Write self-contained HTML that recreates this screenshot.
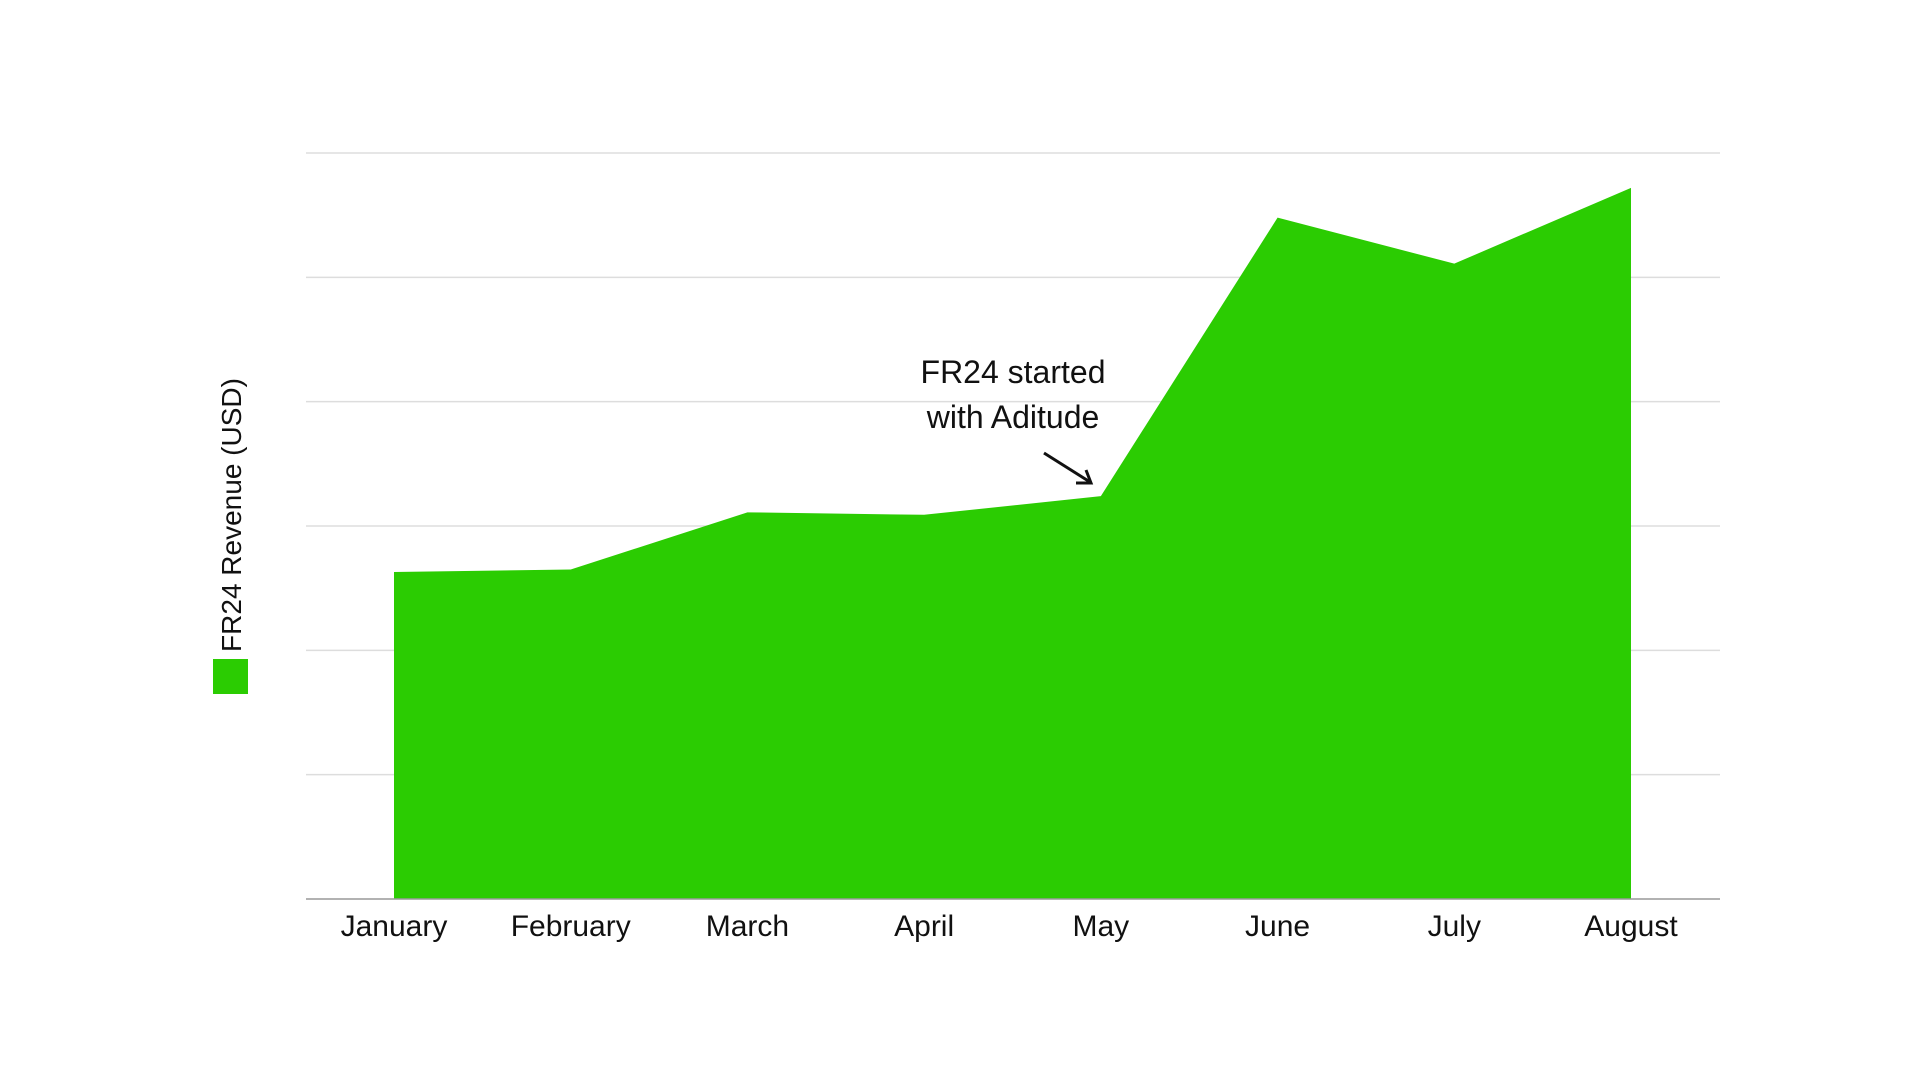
<!DOCTYPE html>
<html><head><meta charset="utf-8"><style>
html,body{margin:0;padding:0;background:#fff;}
svg{display:block;font-family:"Liberation Sans",sans-serif;}
</style></head><body>
<svg id="chart" width="1920" height="1080" viewBox="0 0 1920 1080">
<g id="grid"></g>
<path id="area" fill="#2bcc02"/>
<line x1="306" x2="1720" y1="899" y2="899" stroke="#999" stroke-width="1.5"/>
<g id="xlabels"></g>
<text x="1013" y="383" text-anchor="middle" font-size="32" fill="#111">FR24 started</text>
<text x="1013" y="428" text-anchor="middle" font-size="32" fill="#111">with Aditude</text>
<g stroke="#111" stroke-width="3" fill="none">
<line x1="1044" y1="453" x2="1090" y2="482"/>
<polyline points="1076,483 1091,483 1086,470"/>
</g>
<rect x="213" y="659" width="35" height="35" fill="#2bcc02"/>
<text transform="translate(241,515) rotate(-90)" text-anchor="middle" font-size="28" fill="#111">FR24 Revenue (USD)</text>
</svg>
<script>
const months=["January","February","March","April","May","June","July","August"];
const revenue=[2.63,2.65,3.11,3.09,3.24,5.48,5.11,5.72];
const gridTicks=[1,2,3,4,5,6];
const X0=306,X1=1720,Y0=899,Y6=153,YMAX=6;
const xs=i=>394+i*(1631-394)/(months.length-1);
const ys=v=>Y0-(v/YMAX)*(Y0-Y6);
const ns="http://www.w3.org/2000/svg";
const grid=document.getElementById('grid');
gridTicks.forEach(t=>{const l=document.createElementNS(ns,'line');


l.setAttribute('x1',X0);l.setAttribute('x2',X1);l.setAttribute('y1',ys(t));l.setAttribute('y2',ys(t));
l.setAttribute('stroke','#ddd');l.setAttribute('stroke-width','1.5');grid.appendChild(l);});
let d='M'+xs(0)+','+Y0;
revenue.forEach((v,i)=>{d+=' L'+xs(i)+','+ys(v);});
d+=' L'+xs(revenue.length-1)+','+Y0+' Z';
document.getElementById('area').setAttribute('d',d);
const xl=document.getElementById('xlabels');
months.forEach((m,i)=>{const t=document.createElementNS(ns,'text');


t.setAttribute('x',xs(i));t.setAttribute('y',936);t.setAttribute('text-anchor','middle');
t.setAttribute('font-size','30');t.setAttribute('fill','#111');t.textContent=m;xl.appendChild(t);});
</script>
</body></html>
